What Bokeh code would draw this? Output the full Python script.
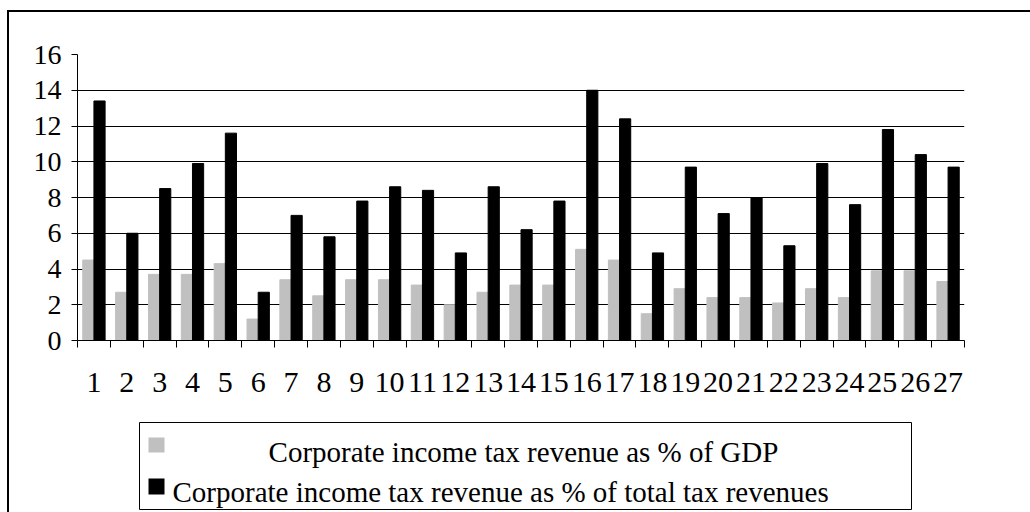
from bokeh.plotting import figure
from bokeh.layouts import column
from bokeh.models import FixedTicker, Grid, Range1d, ColumnDataSource
from bokeh.transform import dodge
from bokeh.core.properties import value
from bokeh.embed import file_html
from bokeh.resources import INLINE

# ---- data ----
countries = [str(i) for i in range(1, 28)]
cit_gdp = [4.5, 2.7, 3.7, 3.7, 4.3, 1.2, 3.4, 2.5, 3.4, 3.4, 3.1, 2.0, 2.7, 3.1,
           3.1, 5.1, 4.5, 1.5, 2.9, 2.4, 2.4, 2.1, 2.9, 2.4, 3.9, 3.9, 3.3]
cit_total = [13.4, 6.0, 8.5, 9.9, 11.6, 2.7, 7.0, 5.8, 7.8, 8.6, 8.4, 4.9, 8.6, 6.2,
             7.8, 14.0, 12.4, 4.9, 9.7, 7.1, 8.0, 5.3, 9.9, 7.6, 11.8, 10.4, 9.7]
y_ticks = [0, 2, 4, 6, 8, 10, 12, 14, 16]
series_names = ["Corporate income tax revenue as % of GDP",
                "Corporate income tax revenue as % of total tax revenues"]

FONT = "Liberation Serif"
GRAY = "#c0c0c0"

pos = list(range(1, len(countries) + 1))
src = ColumnDataSource(dict(x=pos, gdp=cit_gdp, total=cit_total))

# ---- chart ----
p = figure(width=1021, height=388, output_backend="svg", toolbar_location=None,
           x_range=Range1d(0.5, len(countries) + 0.5), y_range=Range1d(0, 16),
           min_border_left=68, min_border_right=66, min_border_top=42, min_border_bottom=60)
p.outline_line_color = None

p.vbar(x=dodge("x", -0.17, range=p.x_range), top="gdp", width=0.34, source=src,
       fill_color=GRAY, line_color=GRAY)
p.vbar(x=dodge("x", 0.17, range=p.x_range), top="total", width=0.34, source=src,
       fill_color="black", line_color="black")

xa = p.xaxis[0]
xa.ticker = FixedTicker(ticks=pos, minor_ticks=[v - 0.5 for v in pos] + [pos[-1] + 0.5])
xa.major_label_overrides = {v: c for v, c in zip(pos, countries)}
xa.major_tick_out = 0
xa.major_tick_in = 0
xa.minor_tick_out = 7
xa.minor_tick_in = 0
xa.minor_tick_line_color = "black"
xa.axis_line_color = "black"
xa.major_label_text_font = FONT
xa.major_label_text_font_size = "30px"
xa.major_label_text_color = "black"
xa.major_label_standoff = 25

ya = p.yaxis[0]
ya.ticker = FixedTicker(ticks=y_ticks)
ya.major_tick_out = 6
ya.major_tick_in = 0
ya.minor_tick_line_color = None
ya.axis_line_color = "black"
ya.major_label_text_font = FONT
ya.major_label_text_font_size = "28px"
ya.major_label_text_color = "black"
ya.major_label_standoff = 10

p.xgrid.grid_line_color = None
p.ygrid.ticker = FixedTicker(ticks=y_ticks[:-1])
p.ygrid.grid_line_color = "black"
p.ygrid.grid_line_width = 1
p.add_layout(Grid(dimension=1, ticker=FixedTicker(ticks=y_ticks[-1:]),
                  grid_line_color="#e6e6e6", grid_line_width=1))

# ---- legend panel (its frame is aligned with the chart frame; ranges in picture pixels) ----
lg = figure(width=1021, height=112, output_backend="svg", toolbar_location=None,
            x_range=Range1d(77, 964), y_range=Range1d(512, 400),
            min_border=0, x_axis_type=None, y_axis_type=None)
lg.outline_line_color = None
lg.grid.grid_line_color = None
lg.quad(left=[139], right=[911], top=[422], bottom=[509],
        fill_color=None, line_color="black", line_width=1)
lg.quad(left=[148, 148], right=[164, 164], top=[437, 478], bottom=[452, 494],
        fill_color=[GRAY, "black"], line_color=None)
lg.text(x=[523], y=[451], text=[series_names[0]], text_font=value(FONT),
        text_font_size=value("29px"), text_align="center", text_baseline="alphabetic",
        text_color="black")
lg.text(x=[172], y=[491], text=[series_names[1]], text_font=value(FONT),
        text_font_size=value("29px"), text_align="left", text_baseline="alphabetic",
        text_color="black")

root = column(p, lg, spacing=0,
              styles={"margin-left": "7px", "margin-top": "10px",
                      "border-left": "2px solid black", "border-top": "2px solid black"})

open("out.html", "w").write(file_html(root, INLINE))
